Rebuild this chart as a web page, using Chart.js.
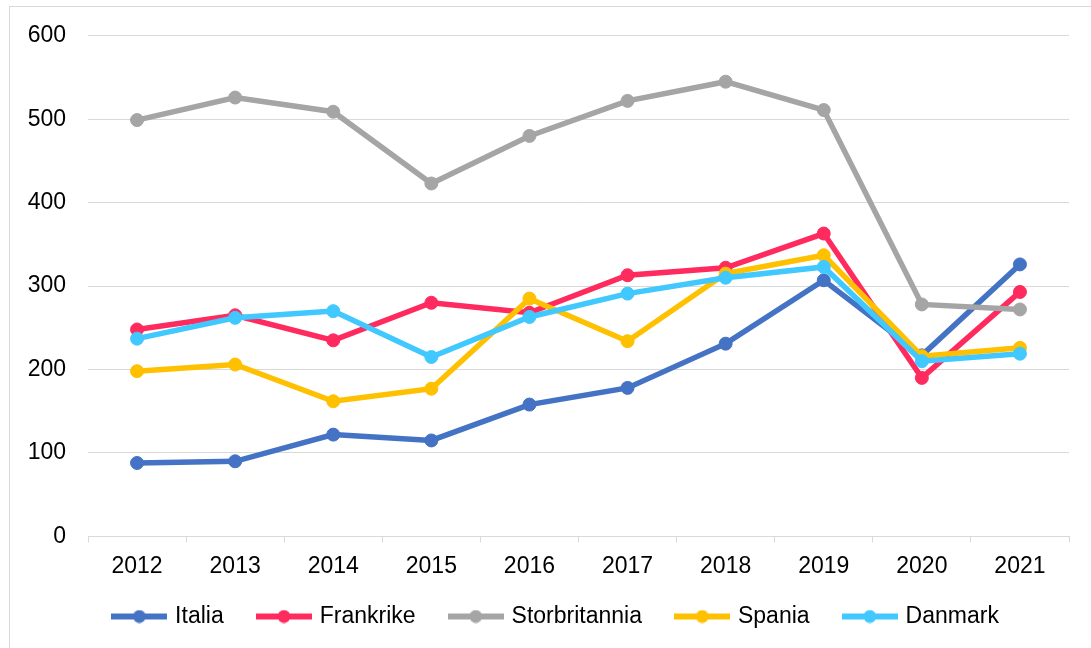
<!DOCTYPE html>
<html>
<head>
<meta charset="utf-8">
<script src="https://cdn.jsdelivr.net/npm/chart.js@4"></script>
<style>
  html, body { margin: 0; padding: 0; background: #ffffff; overflow: hidden; }
  #wrap { position: relative; width: 1091px; height: 648px; }
  #frame { position: absolute; left: 9px; top: 6px; width: 1100px; height: 700px; border: 1px solid #d9d9d9; box-sizing: border-box; }
  #chart { position: absolute; left: 0; top: 0; }
</style>
</head>
<body>
<div id="wrap">
  <div id="frame"></div>
  <canvas id="chart" width="1091" height="648"></canvas>
</div>
<script>
// Données
const years = ["2012", "2013", "2014", "2015", "2016", "2017", "2018", "2019", "2020", "2021"]
const yTicks = [0, 100, 200, 300, 400, 500, 600]

const italia = [88, 90, 122, 115, 158, 178, 231, 307, 217, 326]
const frankrike = [248, 265, 235, 280, 268, 313, 322, 363, 190, 293]
const storbritannia = [499, 526, 509, 423, 480, 522, 545, 511, 278, 272]
const spania = [198, 206, 162, 177, 285, 234, 315, 337, 216, 226]
const danmark = [237, 262, 270, 215, 263, 291, 310, 323, 210, 219]

const seriesNames = ["Italia", "Frankrike", "Storbritannia", "Spania", "Danmark"]
const seriesColors = ["#4472C4", "#FF2A5E", "#A5A5A5", "#FFC000", "#41C8FF"]
const seriesValues = [italia, frankrike, storbritannia, spania, danmark]

const FONT = { family: "'Liberation Sans', Arial, sans-serif", size: 23 }

// Petit symbole de légende : trait + point
function legendSymbol(color) {
  const c = document.createElement("canvas")
  c.width = 56
  c.height = 14
  const ctx = c.getContext("2d")
  ctx.strokeStyle = color
  ctx.lineWidth = 6
  ctx.beginPath()
  ctx.moveTo(0, 7)
  ctx.lineTo(56, 7)
  ctx.stroke()
  ctx.fillStyle = color
  ctx.beginPath()
  ctx.arc(28, 7, 6.5, 0, Math.PI * 2)
  ctx.fill()
  return c
}

// Décalage de la légende (centrée sous le graphique comme dans Excel)
const legendShift = {
  id: "legendShift",
  afterLayout(chart) {
    const lg = chart.legend
    if (!lg) return
    lg.left += 17.5
    lg.right += 17.5
    lg.top -= 21
    lg.bottom -= 21
  },
}

document.addEventListener("DOMContentLoaded", () => {
  const datasets = seriesNames.map((name, i) => ({
    label: name,
    data: seriesValues[i],
    borderColor: seriesColors[i],
    backgroundColor: seriesColors[i],
    pointBackgroundColor: seriesColors[i],
    pointBorderColor: seriesColors[i],
    borderWidth: 5.5,
    pointRadius: 6.5,
    pointBorderWidth: 1,
    tension: 0,
    // dernière série dessinée au-dessus, comme dans Excel
    order: seriesNames.length - 1 - i,
  }))

  new Chart(document.getElementById("chart"), {
    type: "line",
    data: { labels: years, datasets },
    plugins: [legendShift],
    options: {
      responsive: false,
      animation: false,
      layout: { padding: { left: 10, right: 22, top: 35, bottom: -11 } },
      plugins: {
        tooltip: { enabled: false },
        legend: {
          position: "bottom",
          labels: {
            font: FONT,
            color: "#000000",
            usePointStyle: true,
            pointStyleWidth: 48.5,
            padding: 36,
            generateLabels: (chart) =>
              chart.data.datasets.map((ds, i) => ({
                text: ds.label,
                pointStyle: legendSymbol(ds.borderColor),
                fillStyle: ds.borderColor,
                strokeStyle: ds.borderColor,
                lineWidth: 0,
                fontColor: "#000000",
                datasetIndex: i,
                hidden: false,
              })),
          },
        },
      },
      scales: {
        x: {
          offset: true,
          grid: {
            offset: true,
            drawOnChartArea: false,
            drawTicks: true,
            tickLength: 6,
            color: "#d9d9d9",
          },
          border: { display: true, color: "#d9d9d9" },
          ticks: { font: FONT, color: "#000000", padding: 10 },
        },
        y: {
          min: 0,
          max: 600,
          afterFit: (scale) => { scale.width = 78 },
          afterBuildTicks: (scale) => { scale.ticks = yTicks.map((v) => ({ value: v })) },
          grid: { color: "#d9d9d9", drawTicks: false },
          border: { display: false },
          ticks: { font: FONT, color: "#000000", padding: 22 },
        },
      },
    },
  })
})
</script>
</body>
</html>
